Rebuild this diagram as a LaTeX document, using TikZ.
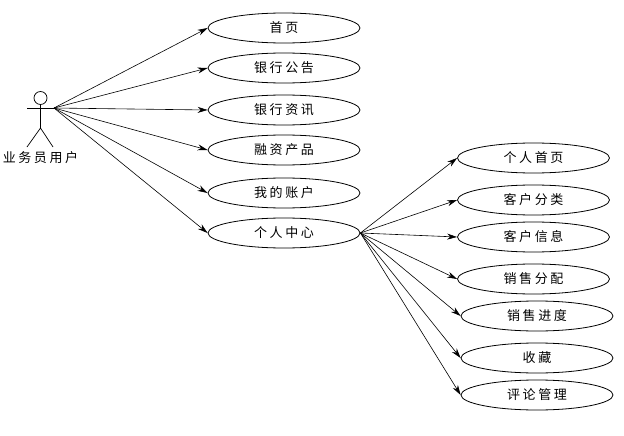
\documentclass[tikz,border=0pt]{standalone}
\usepackage{fontspec}
\setmainfont{Noto Sans CJK SC}[LetterSpace=20]
\usetikzlibrary{arrows.meta,shapes.geometric}
\tikzset{
  usecase/.style={draw=black,ellipse,minimum width=152pt,minimum height=30pt,inner sep=0pt,font=\fontsize{13}{15}\selectfont,line width=0.8pt},
  assoc/.style={draw=black,line width=0.6pt,-{Stealth[length=10pt,width=6pt]}},
  actorline/.style={draw=black,line width=0.7pt},
  actorlabel/.style={inner sep=0pt,font=\fontsize{13}{15}\selectfont}
}
\newcommand{\lowered}[1]{\raisebox{-0.7pt}{#1}}
\begin{document}
\begin{tikzpicture}[x=1pt,y=-1pt]
\useasboundingbox (0,0) rectangle (624,436);
\node[usecase] (a1) at (284,28) {\lowered{首页}};
\node[usecase] (a2) at (284,68) {\lowered{银行公告}};
\node[usecase] (a3) at (284,110) {\lowered{银行资讯}};
\node[usecase] (a4) at (284,150) {\lowered{融资产品}};
\node[usecase] (a5) at (284,193) {\lowered{我的账户}};
\node[usecase] (a6) at (284,233) {\lowered{个人中心}};
\node[usecase] (b1) at (533.5,158) {\lowered{个人首页}};
\node[usecase] (b2) at (533.5,200) {\lowered{客户分类}};
\node[usecase] (b3) at (533.5,237) {\lowered{客户信息}};
\node[usecase] (b4) at (533.5,279) {\lowered{销售分配}};
\node[usecase] (b5) at (537,316) {\lowered{销售进度}};
\node[usecase] (b6) at (537,358) {\lowered{收藏}};
\node[usecase] (b7) at (537,395) {\lowered{评论管理}};
% actor
\node[draw=black,circle,minimum size=13pt,inner sep=0pt,line width=0.7pt] (head) at (40.5,98) {};
\coordinate (neck) at (40.5,108);
\coordinate (handL) at (27,108);
\coordinate (hand) at (54,108);
\coordinate (hip) at (40.5,128);
\coordinate (footL) at (27,147);
\coordinate (footR) at (53,147);
\draw[actorline] (head.south) -- (hip);
\draw[actorline] (handL) -- (hand);
\draw[actorline] (footL) -- (hip) -- (footR);
\node[actorlabel] (actor) at (40.5,158) {业务员用户};
\foreach \t in {a1,a2,a3,a4,a5,a6}{\draw[assoc] (hand) -- (\t.west);}
\foreach \t in {b1,b2,b3,b4,b5,b6,b7}{\draw[assoc] (a6.east) -- (\t.west);}
\end{tikzpicture}
\end{document}
